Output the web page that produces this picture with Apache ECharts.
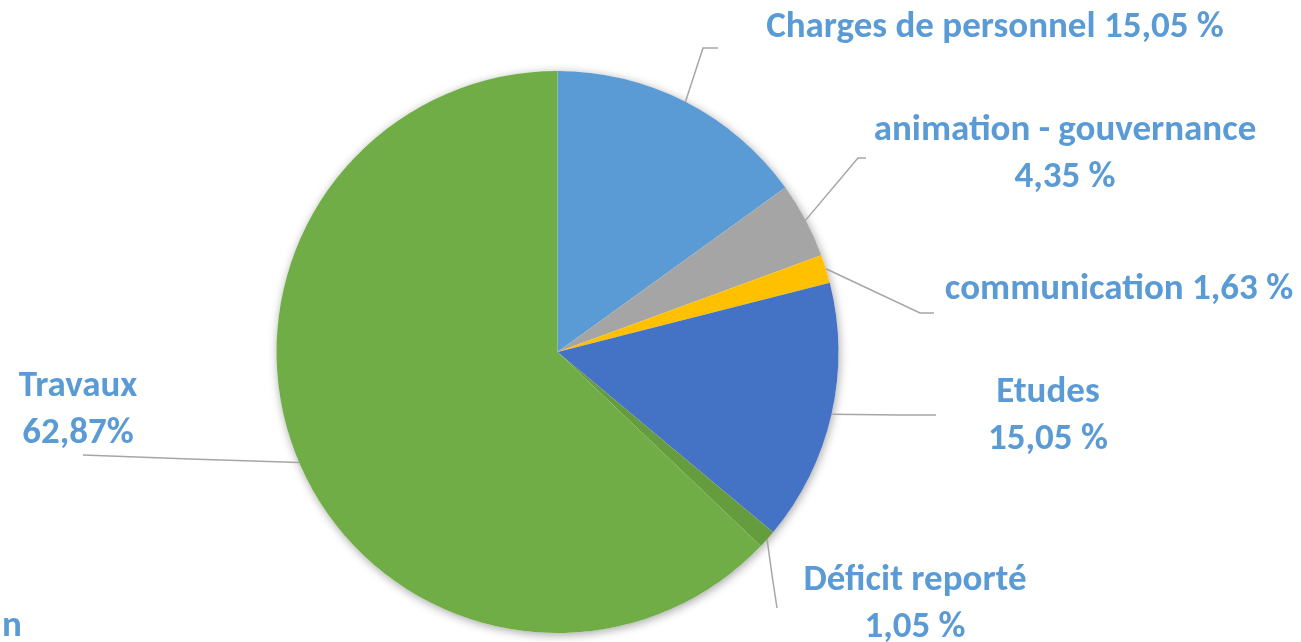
<!DOCTYPE html>
<html>
<head>
<meta charset="utf-8">
<script src="https://cdn.jsdelivr.net/npm/echarts@6/dist/echarts.min.js"></script>
<style>
  html, body { margin: 0; padding: 0; background: #fff; }
  #container { width: 1301px; height: 642px; }
</style>
</head>
<body>
<div id="container"></div>
<script>
// données
var categories = ['Charges de personnel', 'animation - gouvernance', 'communication', 'Etudes', 'Déficit reporté', 'Travaux'];
var values = [15.05, 4.35, 1.63, 15.05, 1.05, 62.87];
var pctLabels = ['15,05 %', '4,35 %', '1,63 %', '15,05 %', '1,05 %', '62,87%'];
var separators = [' ', '\n', ' ', '\n', '\n', '\n'];
var colors = ['#5B9BD5', '#A5A5A5', '#FFC000', '#4472C4', '#659C3D', '#70AD47'];

// placement des étiquettes : [centre x, centre y] et coudes des traits de rappel
var labelPos = [[995, 28], [1065, 154], [1119, 290], [1048, 416], [915, 604], [78, 410]];
var lineBends = [
    [[703, 48], [718, 48]],
    [[858, 158], [866, 158]],
    [[920, 313], [934, 313]],
    [[900, 415], [936, 415]],
    [[772, 575], [777, 608]],
    [[190, 459], [83, 455]]
];

var labelColor = '#5B9BD5';
var fontFamily = 'Carlito, Calibri, Lato, sans-serif';
var fontSize = 37;

var dom = document.getElementById('container');
var myChart = echarts.init(dom, null, { renderer: 'canvas' });

var option = {
    animation: false,
    backgroundColor: '#ffffff',
    graphic: [{
        type: 'text',
        style: {
            x: 2,
            y: 627,
            text: 'n',
            fill: labelColor,
            verticalAlign: 'middle',
            font: 'bold ' + fontSize + 'px ' + fontFamily
        }
    }],
    series: [{
        // ombre portée du disque
        type: 'pie',
        silent: true,
        center: [557.5, 352],
        radius: 281,
        z: 1,
        label: { show: false },
        labelLine: { show: false },
        itemStyle: {
            color: '#ffffff',
            shadowBlur: 10,
            shadowColor: 'rgba(0,0,0,0.35)',
            shadowOffsetX: 1,
            shadowOffsetY: 2
        },
        data: [{ value: values.reduce(function (a, b) { return a + b; }, 0), name: '' }]
    }, {
        type: 'pie',
        center: [557.5, 352],
        radius: 281,
        z: 2,
        startAngle: 90,
        clockwise: true,
        avoidLabelOverlap: false,
        color: colors,
        label: {
            show: true,
            position: 'outside',
            color: labelColor,
            fontFamily: fontFamily,
            fontWeight: 'bold',
            fontSize: fontSize,
            lineHeight: 47,
            align: 'center',
            formatter: function (p) {
                return p.name + separators[p.dataIndex] + pctLabels[p.dataIndex];
            }
        },
        labelLine: {
            show: true,
            lineStyle: { color: '#A6A6A6', width: 1.5 }
        },
        labelLayout: function (params) {
            var i = params.dataIndex;
            return {
                x: labelPos[i][0],
                y: labelPos[i][1],
                align: 'center',
                verticalAlign: 'middle',
                labelLinePoints: [params.labelLinePoints[0], lineBends[i][0], lineBends[i][1]]
            };
        },
        data: categories.map(function (c, i) {
            return { name: c, value: values[i] };
        })
    }]
};
myChart.setOption(option, true);
</script>
</body>
</html>
